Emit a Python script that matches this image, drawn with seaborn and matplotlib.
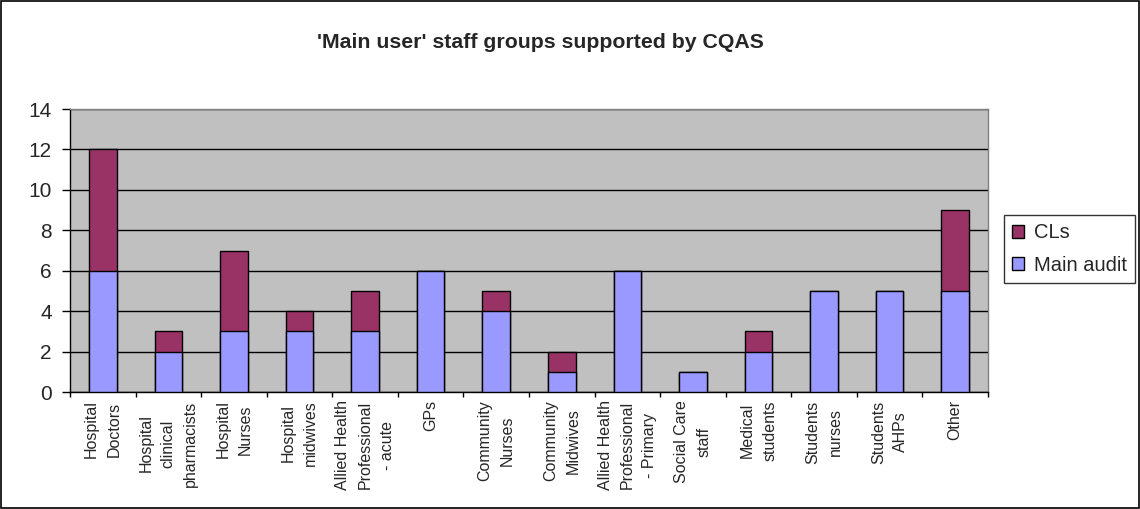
import matplotlib
matplotlib.use("Agg")
import matplotlib.pyplot as plt
from matplotlib.patches import Rectangle, Patch
from matplotlib.ticker import FixedLocator
import seaborn as sns
import pandas as pd
import numpy as np

# Staff groups and counts
categories = [
    "Hospital\nDoctors",
    "Hospital\nclinical\npharmacists",
    "Hospital\nNurses",
    "Hospital\nmidwives",
    "Allied Health\nProfessional\n- acute",
    "GPs",
    "Community\nNurses",
    "Community\nMidwives",
    "Allied Health\nProfessional\n- Primary",
    "Social Care\nstaff",
    "Medical\nstudents",
    "Students\nnurses",
    "Students\nAHPs",
    "Other",
]
main_audit = [6, 2, 3, 3, 3, 6, 4, 1, 6, 1, 2, 5, 5, 5]
cls = [6, 1, 4, 1, 2, 0, 1, 1, 0, 0, 1, 0, 0, 4]
y_ticks = [0, 2, 4, 6, 8, 10, 12, 14]

title = "'Main user' staff groups supported by CQAS"
col_cl = "#993366"
col_main = "#9999FF"

sns.set_theme(style="white")
plt.rcParams["font.family"] = ["Liberation Sans", "DejaVu Sans"]

df = pd.DataFrame({
    "group": categories,
    "main": main_audit,
    "total": np.array(main_audit) + np.array(cls),
})

fig = plt.figure(figsize=(11.4, 5.09), dpi=100)
ax = fig.add_axes([70 / 1140, 1 - 392 / 509, 918 / 1140, 283 / 509])
ax.set_facecolor("#C0C0C0")

# stacked bars: total first, main audit drawn over it
sns.barplot(data=df, x="group", y="total", order=categories, color=col_cl,
            width=0.42, saturation=1, edgecolor="black", linewidth=1,
            ax=ax, zorder=3)
sns.barplot(data=df, x="group", y="main", order=categories, color=col_main,
            width=0.42, saturation=1, edgecolor="black", linewidth=1,
            ax=ax, zorder=4)

ax.set_xlim(-0.5, len(categories) - 0.5)
ax.set_ylim(0, 14)
ax.set_yticks(y_ticks)
ax.set_xlabel("")
ax.set_ylabel("")
ax.grid(axis="y", color="black", linewidth=1, zorder=1)
ax.set_axisbelow(True)

ax.tick_params(axis="y", direction="out", length=6, width=1, color="black",
               labelsize=15, pad=7, left=True)
ax.set_xticks(range(len(categories)))
ax.set_xticklabels(categories, rotation=90, ha="center", va="top",
                   multialignment="center", fontsize=11.5, linespacing=1.6)
ax.tick_params(axis="x", which="major", length=0, pad=6)
ax.xaxis.set_minor_locator(FixedLocator(np.arange(-0.5, len(categories), 1.0)))
ax.tick_params(axis="x", which="minor", direction="out", length=3.8, width=1,
               color="black", bottom=True)

for side in ["left", "bottom"]:
    ax.spines[side].set_color("black")
    ax.spines[side].set_linewidth(1)
for side in ["top", "right"]:
    ax.spines[side].set_color("#808080")
    ax.spines[side].set_linewidth(1)

fig.text(540 / 1140, 1 - 42 / 509, title, ha="center", va="center",
         fontsize=15.3, fontweight="bold")

handles = [Patch(facecolor=col_cl, edgecolor="black", label="CLs"),
           Patch(facecolor=col_main, edgecolor="black", label="Main audit")]
leg = fig.legend(handles=handles, loc="center left",
                 bbox_to_anchor=(1004 / 1140, 1 - 249 / 509),
                 fontsize=14.5, frameon=True, fancybox=False,
                 edgecolor="black", handlelength=0.6, handleheight=0.6,
                 handletextpad=0.5, borderpad=0.4, labelspacing=0.65,
                 borderaxespad=0)
leg.get_frame().set_linewidth(1)

fig.patches.append(Rectangle((0.0005, 0.001), 0.999, 0.998, transform=fig.transFigure,
                             fill=False, edgecolor="black", linewidth=1.2))

fig.savefig("out.png", dpi=100)
